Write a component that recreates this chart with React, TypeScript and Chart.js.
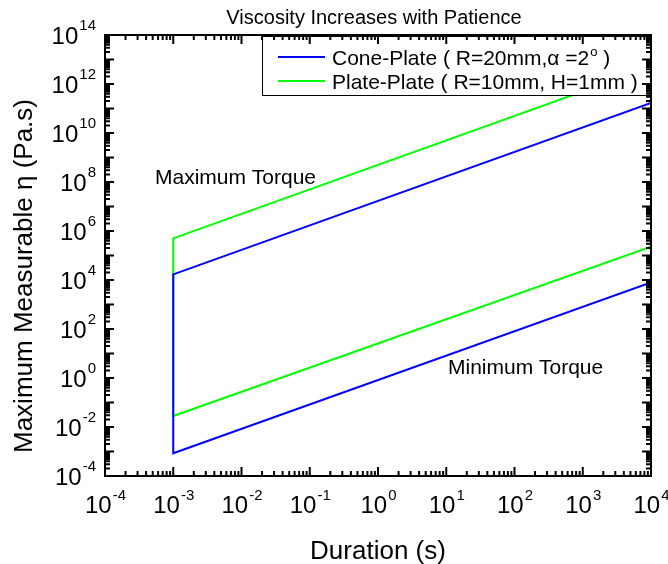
import { useEffect, useRef } from 'react';
import { Chart, registerables } from 'chart.js';

Chart.register(...registerables);

// ---- data ----
const seriesNames = ['Cone-Plate', 'Plate-Plate'];
const legendMain = ['Cone-Plate ( R=20mm,\u03B1 =2', 'Plate-Plate ( R=10mm, H=1mm )'];
const legendSup = ['o', ''];
const legendTail = [' )', ''];
const seriesColors = ['#0000ff', '#00ff00'];

const coneDuration = [1e4, 1e-3, 1e-3, 1e4];
const coneViscosity = [1.7e11, 1.7e4, 8.5e-4, 8e3];
const plateDuration = [1e4, 1e-3, 1e-3, 1e4];
const plateViscosity = [5e12, 5e5, 2.8e-2, 2.3e5];

const xDecades = [-4, -3, -2, -1, 0, 1, 2, 3, 4];
const yDecades = [-4, -3, -2, -1, 0, 1, 2, 3, 4, 5, 6, 7, 8, 9, 10, 11, 12, 13, 14];
const yLabelExps = [-4, -2, 0, 2, 4, 6, 8, 10, 12, 14];
const minorMultipliers = [2, 3, 4, 5, 6, 7, 8, 9];

const titleText = 'Viscosity Increases with Patience';
const xTitle = 'Duration (s)';
const yTitle = 'Maximum Measurable \u03B7 (Pa.s)';
const noteMax = 'Maximum Torque';
const noteMin = 'Minimum Torque';

const FONT = 'Arial, "Liberation Sans", sans-serif';

const decorPlugin = {
  id: 'decor',
  afterDatasetsDraw(chart: any) {
    const ctx: CanvasRenderingContext2D = chart.ctx;
    const { left, right, top, bottom } = chart.chartArea;
    const xs = chart.scales.x;
    const ys = chart.scales.y;
    ctx.save();

    // legend box
    const lbL = 262, lbT = top + 1, lbR = right, lbB = 96;
    ctx.fillStyle = '#ffffff';
    ctx.fillRect(lbL, lbT, lbR - lbL, lbB - lbT);
    ctx.strokeStyle = '#000';
    ctx.lineWidth = 1;
    ctx.strokeRect(lbL + 0.5, lbT + 0.5, lbR - lbL - 1, lbB - lbT - 1);
    const rows = [57, 81];
    chart.data.datasets.forEach((ds: any, i: number) => {
      const y = rows[i];
      ctx.strokeStyle = ds.borderColor;
      ctx.lineWidth = 2;
      ctx.beginPath();
      ctx.moveTo(278, y);
      ctx.lineTo(325, y);
      ctx.stroke();
      ctx.fillStyle = '#000';
      ctx.font = '21px ' + FONT;
      ctx.textAlign = 'left';
      ctx.textBaseline = 'alphabetic';
      let x = 332;
      const base = y + 8;
      ctx.fillText(legendMain[i], x, base);
      x += ctx.measureText(legendMain[i]).width;
      if (legendSup[i]) {
        ctx.font = '13px ' + FONT;
        ctx.fillText(legendSup[i], x + 1, base - 9);
        x += ctx.measureText(legendSup[i]).width + 1;
        ctx.font = '21px ' + FONT;
        ctx.fillText(legendTail[i], x, base);
      }
    });

    // frame
    ctx.strokeStyle = '#000';
    ctx.lineWidth = 2;
    ctx.strokeRect(left, top, right - left, bottom - top);

    // ticks
    const major = 9, minor = 5;
    ctx.lineWidth = 2;
    ctx.beginPath();
    xDecades.forEach((e, idx) => {
      const v = Math.pow(10, e);
      const px = xs.getPixelForValue(v);
      ctx.moveTo(px, bottom); ctx.lineTo(px, bottom - major);
      ctx.moveTo(px, top); ctx.lineTo(px, top + major);
      if (idx < xDecades.length - 1) {
        minorMultipliers.forEach((m) => {
          const p = xs.getPixelForValue(m * v);
          ctx.moveTo(p, bottom); ctx.lineTo(p, bottom - minor);
          ctx.moveTo(p, top); ctx.lineTo(p, top + minor);
        });
      }
    });
    yDecades.forEach((e, idx) => {
      const v = Math.pow(10, e);
      const py = ys.getPixelForValue(v);
      ctx.moveTo(left, py); ctx.lineTo(left + major, py);
      ctx.moveTo(right, py); ctx.lineTo(right - major, py);
      if (idx < yDecades.length - 1) {
        minorMultipliers.forEach((m) => {
          const p = ys.getPixelForValue(m * v);
          ctx.moveTo(left, p); ctx.lineTo(left + minor, p);
          ctx.moveTo(right, p); ctx.lineTo(right - minor, p);
        });
      }
    });
    ctx.stroke();

    // tick labels
    ctx.fillStyle = '#000';
    ctx.textAlign = 'left';
    ctx.textBaseline = 'alphabetic';
    const mainFont = '24px ' + FONT;
    const supFont = '15px ' + FONT;
    const drawPow = (exp: number, x: number, base: number, mode: 'center' | 'right', raise: number) => {
      ctx.font = mainFont;
      const w1 = ctx.measureText('10').width;
      ctx.font = supFont;
      const es = String(exp);
      const w2 = ctx.measureText(es).width;
      const start = mode === 'center' ? x - (w1 + w2) / 2 : x - (w1 + w2);
      ctx.font = mainFont;
      ctx.fillText('10', start, base);
      ctx.font = supFont;
      ctx.fillText(es, start + w1 + 1, base - raise);
    };
    xDecades.forEach((e) => {
      const px = xs.getPixelForValue(Math.pow(10, e));
      drawPow(e, px, bottom + 37, 'center', 13);
    });
    yLabelExps.forEach((e) => {
      const py = ys.getPixelForValue(Math.pow(10, e));
      drawPow(e, left - 10, py + 9, 'right', 14);
    });

    // titles
    ctx.font = '20px ' + FONT;
    ctx.textAlign = 'center';
    ctx.fillText(titleText, 374, 24);

    ctx.font = '26px ' + FONT;
    ctx.fillText(xTitle, (left + right) / 2, 559);

    ctx.save();
    ctx.translate(32, 276);
    ctx.rotate(-Math.PI / 2);
    ctx.fillText(yTitle, 0, 0);
    ctx.restore();

    // annotations
    ctx.font = '21px ' + FONT;
    ctx.textAlign = 'left';
    ctx.fillText(noteMax, 155, 184);
    ctx.fillText(noteMin, 448, 374);

    ctx.restore();
  },
};

export default function App() {
  const ref = useRef<HTMLCanvasElement>(null);
  useEffect(() => {
    const canvas = ref.current;
    if (!canvas) return;
    const chart = new Chart(canvas, {
      type: 'scatter',
      data: {
        datasets: [
          {
            label: seriesNames[0],
            data: coneDuration.map((x, i) => ({ x, y: coneViscosity[i] })),
            borderColor: seriesColors[0],
            backgroundColor: seriesColors[0],
            showLine: true,
            pointRadius: 0,
            borderWidth: 2,
          },
          {
            label: seriesNames[1],
            data: plateDuration.map((x, i) => ({ x, y: plateViscosity[i] })),
            borderColor: seriesColors[1],
            backgroundColor: seriesColors[1],
            showLine: true,
            pointRadius: 0,
            borderWidth: 2,
          },
        ],
      },
      options: {
        responsive: false,
        animation: false,
        layout: { padding: { left: 105, right: 17, top: 35, bottom: 88 } },
        scales: {
          x: { type: 'logarithmic', min: 1e-4, max: 1e4, display: false },
          y: { type: 'logarithmic', min: 1e-4, max: 1e14, display: false },
        },
        plugins: {
          legend: { display: false },
          tooltip: { enabled: false },
          title: { display: false },
        },
      },
      plugins: [decorPlugin],
    } as any);
    return () => chart.destroy();
  }, []);
  return (
    <div style={{ position: 'absolute', left: 0, top: 0, width: 668, height: 564, background: '#fff' }}>
      <canvas ref={ref} width={668} height={564} style={{ display: 'block', width: 668, height: 564 }} />
    </div>
  );
}
